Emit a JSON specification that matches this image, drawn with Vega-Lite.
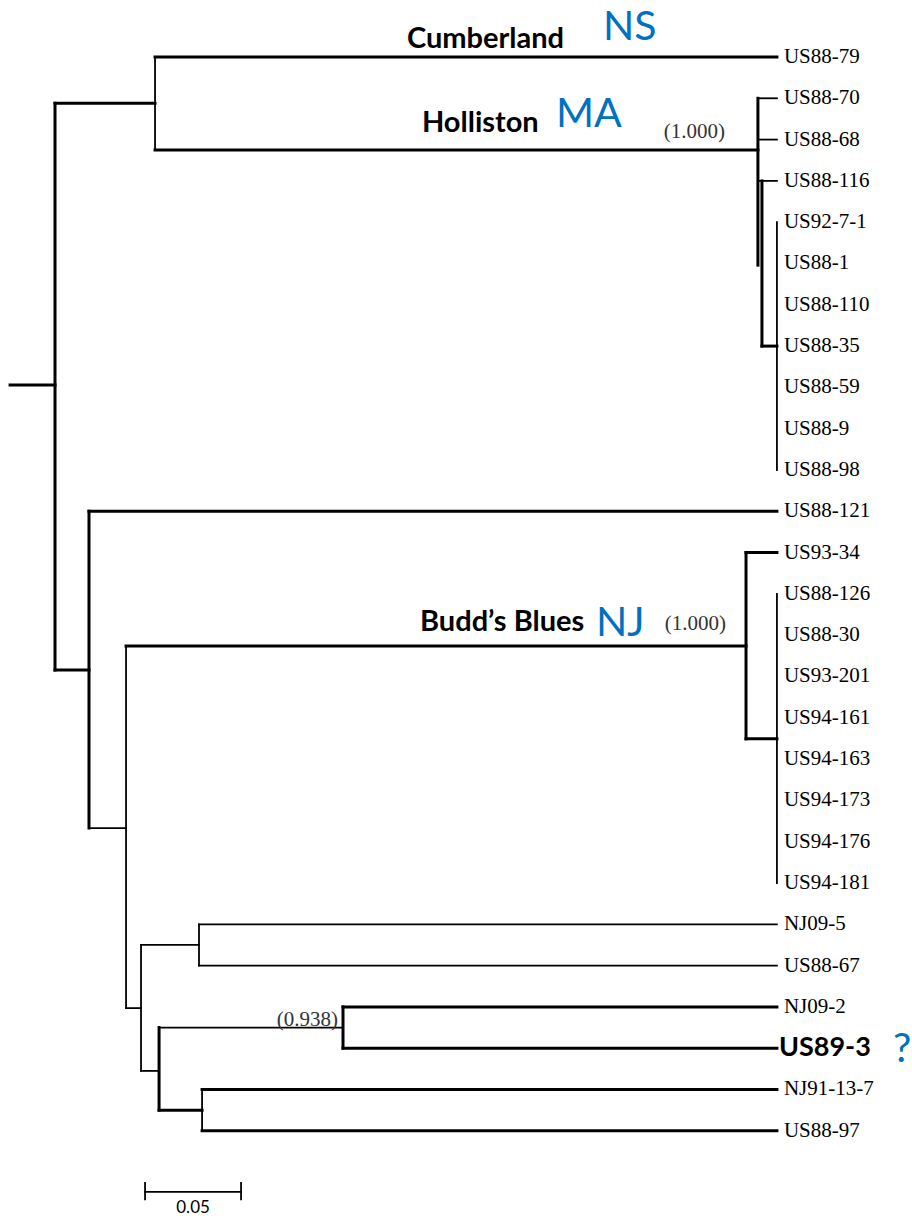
{
  "$schema": "https://vega.github.io/schema/vega-lite/v6.json",
  "width": 912,
  "height": 1220,
  "autosize": {"type": "none"},
  "padding": 0,
  "background": "white",
  "config": {"view": {"stroke": null}},
  "datasets": {
    "branches": [
      {"x": -0.0234, "x2": 0, "y": 7.94, "y2": 7.94, "weight": "bold"},
      {"x": 0, "x2": 0, "y": 1.12, "y2": 14.84, "weight": "bold"},
      {"x": 0, "x2": 0.0521, "y": 1.12, "y2": 1.12, "weight": "bold"},
      {"x": 0.0521, "x2": 0.0521, "y": 0, "y2": 2.25, "weight": "normal"},
      {"x": 0.0521, "x2": 0.376, "y": 0, "y2": 0, "weight": "bold"},
      {"x": 0.0521, "x2": 0.3661, "y": 2.25, "y2": 2.25, "weight": "bold"},
      {"x": 0.3661, "x2": 0.3661, "y": 1, "y2": 5.04, "weight": "bold"},
      {"x": 0.3661, "x2": 0.376, "y": 1, "y2": 1, "weight": "normal"},
      {"x": 0.3661, "x2": 0.376, "y": 2, "y2": 2, "weight": "normal"},
      {"x": 0.3661, "x2": 0.376, "y": 3, "y2": 3, "weight": "normal"},
      {"x": 0.3682, "x2": 0.3682, "y": 3, "y2": 7, "weight": "bold"},
      {"x": 0.3682, "x2": 0.376, "y": 7, "y2": 7, "weight": "bold"},
      {"x": 0.376, "x2": 0.376, "y": 4, "y2": 10, "weight": "normal"},
      {"x": 0, "x2": 0.0177, "y": 14.84, "y2": 14.84, "weight": "bold"},
      {"x": 0.0177, "x2": 0.0177, "y": 11, "y2": 18.67, "weight": "bold"},
      {"x": 0.0177, "x2": 0.376, "y": 11, "y2": 11, "weight": "bold"},
      {"x": 0.0177, "x2": 0.037, "y": 18.67, "y2": 18.67, "weight": "normal"},
      {"x": 0.037, "x2": 0.037, "y": 14.26, "y2": 23.03, "weight": "normal"},
      {"x": 0.037, "x2": 0.3599, "y": 14.26, "y2": 14.26, "weight": "bold"},
      {"x": 0.3599, "x2": 0.3599, "y": 12, "y2": 16.51, "weight": "bold"},
      {"x": 0.3599, "x2": 0.376, "y": 12, "y2": 12, "weight": "bold"},
      {"x": 0.3599, "x2": 0.376, "y": 16.51, "y2": 16.51, "weight": "bold"},
      {"x": 0.376, "x2": 0.376, "y": 13, "y2": 20, "weight": "normal"},
      {"x": 0.037, "x2": 0.0448, "y": 23.03, "y2": 23.03, "weight": "normal"},
      {"x": 0.0448, "x2": 0.0448, "y": 21.5, "y2": 24.55, "weight": "normal"},
      {"x": 0.0448, "x2": 0.075, "y": 21.5, "y2": 21.5, "weight": "normal"},
      {"x": 0.075, "x2": 0.075, "y": 21, "y2": 22, "weight": "normal"},
      {"x": 0.075, "x2": 0.376, "y": 21, "y2": 21, "weight": "normal"},
      {"x": 0.075, "x2": 0.376, "y": 22, "y2": 22, "weight": "normal"},
      {"x": 0.0448, "x2": 0.0542, "y": 24.55, "y2": 24.55, "weight": "normal"},
      {"x": 0.0542, "x2": 0.0542, "y": 23.5, "y2": 25.5, "weight": "bold"},
      {"x": 0.0542, "x2": 0.15, "y": 23.5, "y2": 23.5, "weight": "normal"},
      {"x": 0.15, "x2": 0.15, "y": 23, "y2": 24, "weight": "bold"},
      {"x": 0.15, "x2": 0.376, "y": 23, "y2": 23, "weight": "bold"},
      {"x": 0.15, "x2": 0.376, "y": 24, "y2": 24, "weight": "bold"},
      {"x": 0.0542, "x2": 0.0766, "y": 25.5, "y2": 25.5, "weight": "bold"},
      {"x": 0.0766, "x2": 0.0766, "y": 25, "y2": 26, "weight": "normal"},
      {"x": 0.0766, "x2": 0.376, "y": 25, "y2": 25, "weight": "bold"},
      {"x": 0.0766, "x2": 0.376, "y": 26, "y2": 26, "weight": "bold"},
      {"x": 0.0469, "x2": 0.0969, "y": 27.48, "y2": 27.48, "weight": "normal"},
      {"x": 0.0469, "x2": 0.0469, "y": 27.26, "y2": 27.66, "weight": "normal"},
      {"x": 0.0969, "x2": 0.0969, "y": 27.26, "y2": 27.66, "weight": "normal"}
    ],
    "leaves": [
      {"x": 0.376, "y": 0, "name": "US88-79"},
      {"x": 0.376, "y": 1, "name": "US88-70"},
      {"x": 0.376, "y": 2, "name": "US88-68"},
      {"x": 0.376, "y": 3, "name": "US88-116"},
      {"x": 0.376, "y": 4, "name": "US92-7-1"},
      {"x": 0.376, "y": 5, "name": "US88-1"},
      {"x": 0.376, "y": 6, "name": "US88-110"},
      {"x": 0.376, "y": 7, "name": "US88-35"},
      {"x": 0.376, "y": 8, "name": "US88-59"},
      {"x": 0.376, "y": 9, "name": "US88-9"},
      {"x": 0.376, "y": 10, "name": "US88-98"},
      {"x": 0.376, "y": 11, "name": "US88-121"},
      {"x": 0.376, "y": 12, "name": "US93-34"},
      {"x": 0.376, "y": 13, "name": "US88-126"},
      {"x": 0.376, "y": 14, "name": "US88-30"},
      {"x": 0.376, "y": 15, "name": "US93-201"},
      {"x": 0.376, "y": 16, "name": "US94-161"},
      {"x": 0.376, "y": 17, "name": "US94-163"},
      {"x": 0.376, "y": 18, "name": "US94-173"},
      {"x": 0.376, "y": 19, "name": "US94-176"},
      {"x": 0.376, "y": 20, "name": "US94-181"},
      {"x": 0.376, "y": 21, "name": "NJ09-5"},
      {"x": 0.376, "y": 22, "name": "US88-67"},
      {"x": 0.376, "y": 23, "name": "NJ09-2"},
      {"x": 0.376, "y": 24, "name": "US89-3"},
      {"x": 0.376, "y": 25, "name": "NJ91-13-7"},
      {"x": 0.376, "y": 26, "name": "US88-97"}
    ],
    "notes": [
      {"x": 0.1833, "y": -0.22, "text": "Cumberland", "kind": "clade"},
      {"x": 0.1911, "y": 1.82, "text": "Holliston", "kind": "clade"},
      {"x": 0.1901, "y": 13.9, "text": "Budd’s Blues", "kind": "clade"},
      {"x": 0.2854, "y": -0.41, "text": "NS", "kind": "state"},
      {"x": 0.2609, "y": 1.7, "text": "MA", "kind": "state"},
      {"x": 0.2818, "y": 14.02, "text": "NJ", "kind": "state"},
      {"x": 0.4365, "y": 24.33, "text": "?", "kind": "state"},
      {"x": 0.349, "y": 1.96, "text": "(1.000)", "kind": "support"},
      {"x": 0.3495, "y": 13.87, "text": "(1.000)", "kind": "support"},
      {"x": 0.1474, "y": 23.46, "text": "(0.938)", "kind": "support"},
      {"x": 0.0719, "y": 28.0, "text": "0.05", "kind": "scale"}
    ]
  },
  "encoding": {
    "x": {"field": "x", "type": "quantitative", "axis": null, "scale": {"domain": [-0.02865, 0.44635], "nice": false, "zero": false}},
    "y": {"field": "y", "type": "quantitative", "axis": null, "scale": {"domain": [-1.38, 28.16], "nice": false, "zero": false, "reverse": true}}
  },
  "layer": [
    {
      "data": {"name": "branches"},
      "mark": {"type": "rule", "color": "black", "strokeCap": "square"},
      "encoding": {
        "x2": {"field": "x2"},
        "y2": {"field": "y2"},
        "strokeWidth": {"field": "weight", "type": "nominal", "scale": {"domain": ["bold", "normal"], "range": [3, 1.8]}, "legend": null}
      }
    },
    {
      "data": {"name": "leaves"},
      "transform": [{"filter": "datum.name !== 'US89-3'"}],
      "mark": {"type": "text", "align": "left", "baseline": "middle", "dx": 7, "font": "Liberation Serif", "fontSize": 21, "color": "black"},
      "encoding": {"text": {"field": "name"}}
    },
    {
      "data": {"name": "leaves"},
      "transform": [{"filter": "datum.name === 'US89-3'"}],
      "mark": {"type": "text", "align": "left", "baseline": "middle", "dx": 2, "font": "Lato", "fontWeight": "bold", "fontSize": 27, "color": "black"},
      "encoding": {"text": {"field": "name"}}
    },
    {
      "data": {"name": "notes"},
      "transform": [{"filter": "datum.kind === 'clade'"}],
      "mark": {"type": "text", "align": "left", "baseline": "alphabetic", "font": "Lato", "fontWeight": "bold", "fontSize": 29, "color": "black"},
      "encoding": {"text": {"field": "text"}}
    },
    {
      "data": {"name": "notes"},
      "transform": [{"filter": "datum.kind === 'state'"}],
      "mark": {"type": "text", "align": "left", "baseline": "alphabetic", "font": "Lato", "fontSize": 41, "color": "#0070C0"},
      "encoding": {"text": {"field": "text"}}
    },
    {
      "data": {"name": "notes"},
      "transform": [{"filter": "datum.kind === 'support'"}],
      "mark": {"type": "text", "align": "right", "baseline": "alphabetic", "font": "Liberation Serif", "fontSize": 21, "color": "#333333"},
      "encoding": {"text": {"field": "text"}}
    },
    {
      "data": {"name": "notes"},
      "transform": [{"filter": "datum.kind === 'scale'"}],
      "mark": {"type": "text", "align": "center", "baseline": "alphabetic", "font": "Lato", "fontSize": 17, "color": "black"},
      "encoding": {"text": {"field": "text"}}
    }
  ]
}
